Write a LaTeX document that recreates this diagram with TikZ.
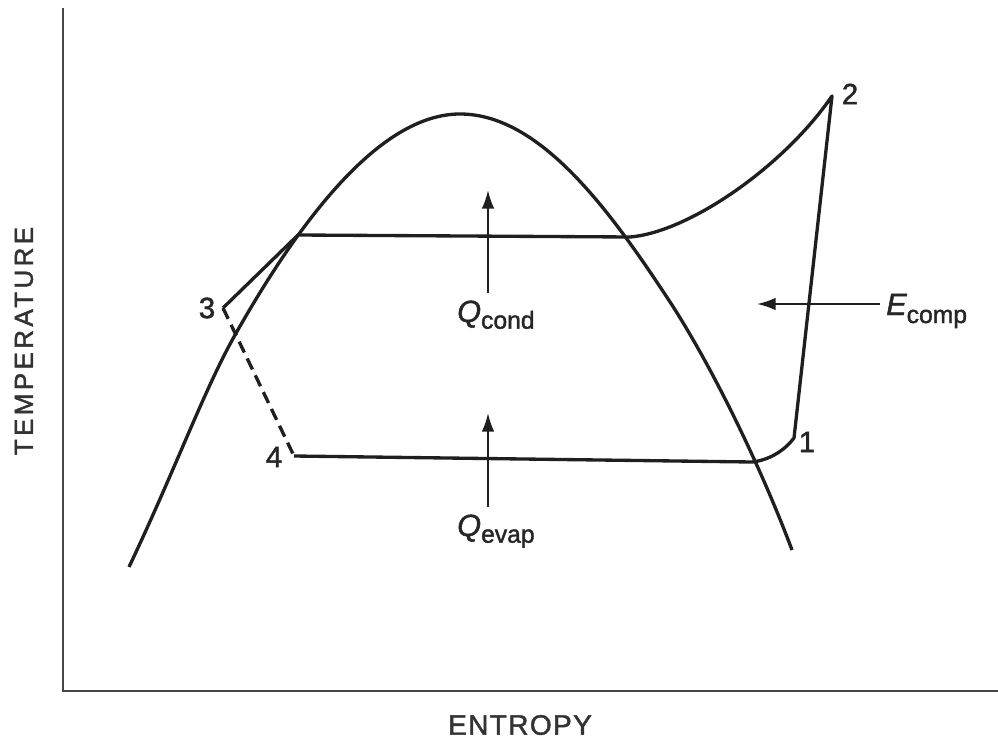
\documentclass[tikz,border=0pt]{standalone}
\usepackage{fontspec}
\setmainfont{Liberation Sans}[FakeBold=1.6]
\usetikzlibrary{arrows.meta}
\begin{document}
\begin{tikzpicture}[x=0.75pt,y=-0.75pt,
  ink/.style={draw=black!88, line width=2.5pt, line join=round},
  axisline/.style={draw=black!72, line width=1.8pt},
  flow/.style={draw=black!88, line width=1.6pt, -{Latex[length=14pt,width=9.5pt]}},
  num/.style={inner sep=0pt, text=black!85, font=\fontsize{22}{22}\selectfont},
  qlab/.style={inner sep=0pt, anchor=base west, text=black!85},
  axlab/.style={inner sep=0pt, text=black!80}
]
\useasboundingbox (0,0) rectangle (998,745);
% axes
\coordinate (otop) at (63,8);
\coordinate (o) at (63,691);
\coordinate (xend) at (998,691);
\draw[axisline] (otop) -- (o) -- (xend);
% saturation dome
\coordinate (dl) at (129,567);
\coordinate (dm) at (235,335);
\coordinate (dtop) at (460,114);
\coordinate (dr) at (672,305);
\coordinate (dend) at (792,550);
\draw[ink] (dl) .. controls (175,470) and (204,390) .. (dm)
  .. controls (300,220) and (380,114) .. (dtop)
  .. controls (540,114) and (610,210) .. (dr)
  .. controls (715,372) and (762,470) .. (dend);
% cycle points
\coordinate (p3) at (223,308);
\coordinate (c1) at (298,235);
\coordinate (c2) at (630,237);
\coordinate (p2) at (832,96);
\coordinate (p1) at (794,438);
\coordinate (e1) at (752,462);
\coordinate (p4) at (294,456);
\draw[ink] (p3) -- (c1) -- (c2) .. controls (690,232) and (785,165) .. (p2) -- (p1) .. controls (785,450) and (770,460) .. (e1) -- (p4);
\draw[ink, dash pattern=on 9pt off 5pt] (p3) -- (p4);
% heat / work arrows
\coordinate (qcs) at (488,293);
\coordinate (qct) at (488,190);
\coordinate (qes) at (488,507);
\coordinate (qet) at (488,413);
\coordinate (ecs) at (880,304);
\coordinate (ect) at (757,304);
\draw[flow] (qcs) -- (qct);
\draw[flow] (qes) -- (qet);
\draw[flow] (ecs) -- (ect);
% labels
\node[num] (l2) at (850,94) {2};
\node[num] (l1) at (807,442) {1};
\node[num] (l3) at (207,308) {3};
\node[num] (l4) at (274,457) {4};
\node[qlab] (qcl) at (457,322) {\fontsize{23}{23}\selectfont\itshape Q\upshape\raisebox{-5pt}{\fontsize{18.5}{18.5}\selectfont cond}};
\node[qlab] (qel) at (457,536) {\fontsize{23}{23}\selectfont\itshape Q\upshape\raisebox{-5pt}{\fontsize{18.5}{18.5}\selectfont evap}};
\node[qlab] (ecl) at (886,315) {\fontsize{23}{23}\selectfont\itshape E\upshape\raisebox{-6pt}{\fontsize{18.5}{18.5}\selectfont comp}};
\node[axlab, rotate=90] (ylab) at (24,341) {\fontsize{19.5}{19.5}\selectfont\addfontfeature{LetterSpace=13}TEMPERATURE};
\node[axlab] (xlab) at (520,725) {\fontsize{21}{21}\selectfont\addfontfeature{LetterSpace=5}ENTROPY};
\end{tikzpicture}
\end{document}
